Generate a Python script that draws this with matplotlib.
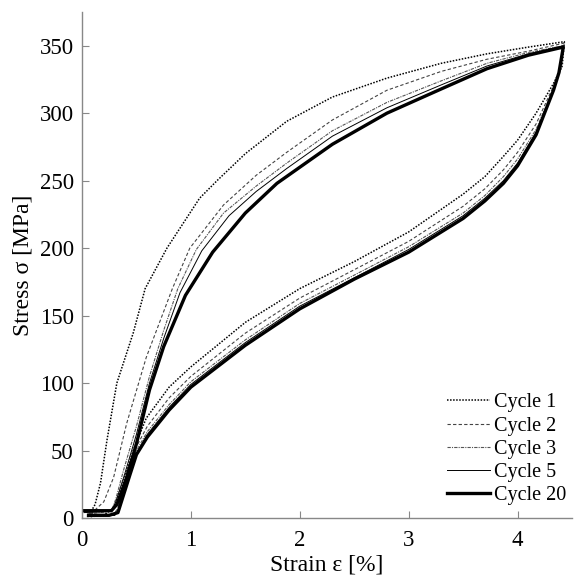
import matplotlib
matplotlib.use("Agg")
import matplotlib.pyplot as plt

plt.rcParams['font.family'] = ['Liberation Serif', 'DejaVu Serif']

# ---------------- data (strain %, stress MPa) ----------------
c1_load_x = [0.07, 0.12, 0.17, 0.23, 0.32, 0.47, 0.58, 0.78, 1.08, 1.24, 1.50, 1.88, 2.30, 2.80, 3.30, 3.72, 4.10, 4.43]
c1_load_y = [3, 10, 26, 58, 100, 137, 170, 200, 237, 250, 270, 294, 312, 326, 337, 344, 349, 353]
c1_unl_x = [4.43, 4.41, 4.33, 4.17, 4.00, 3.87, 3.70, 3.50, 3.00, 2.50, 2.00, 1.50, 1.00, 0.80, 0.59, 0.47, 0.36, 0.30, 0.20, 0.08]
c1_unl_y = [353, 335, 322, 300, 280, 268, 253, 240, 212, 190, 170, 145, 112, 97, 74, 50, 22, 8, 2, 1]

c2_load_x = [0.08, 0.20, 0.29, 0.41, 0.59, 0.83, 0.99, 1.30, 1.60, 1.88, 2.30, 2.80, 3.30, 3.72, 4.10, 4.43]
c2_load_y = [3, 12, 30, 70, 119, 170, 200, 232, 254, 271, 295, 317, 331, 340, 346, 352]
c2_unl_x = [4.43, 4.40, 4.33, 4.17, 4.00, 3.87, 3.70, 3.50, 3.00, 2.50, 2.00, 1.50, 1.00, 0.80, 0.60, 0.50, 0.42, 0.34, 0.30, 0.10]
c2_unl_y = [352, 333, 320, 292, 271, 258, 244, 231, 205, 184, 163, 137, 105, 89, 68, 53, 36, 10, 3, 1]

c3_load_x = [0.05, 0.27, 0.31, 0.38, 0.50, 0.62, 0.75, 0.88, 1.05, 1.30, 1.60, 1.88, 2.30, 2.80, 3.30, 3.72, 4.10, 4.42]
c3_load_y = [3, 5, 14, 35, 68, 105, 139, 170, 199, 226, 246, 263, 287, 308, 324, 337, 345, 350]
c3_unl_x = [4.42, 4.39, 4.33, 4.17, 4.00, 3.87, 3.70, 3.50, 3.00, 2.50, 2.00, 1.50, 1.00, 0.80, 0.60, 0.50, 0.44, 0.33, 0.30, 0.05]
c3_unl_y = [350, 331, 318, 288, 266, 253, 239, 226, 201, 180, 159, 132, 101, 84, 64, 50, 34, 6, 2, 1]

c5_load_x = [0.02, 0.27, 0.31, 0.39, 0.50, 0.62, 0.75, 0.90, 1.10, 1.35, 1.60, 1.88, 2.30, 2.80, 3.30, 3.72, 4.10, 4.42]
c5_load_y = [4, 5, 12, 32, 62, 100, 133, 167, 198, 224, 242, 259, 283, 304, 321, 335, 344, 350]
c5_unl_x = [4.42, 4.38, 4.33, 4.17, 4.00, 3.87, 3.70, 3.50, 3.00, 2.50, 2.00, 1.50, 1.00, 0.80, 0.60, 0.50, 0.44, 0.33, 0.30, 0.05]
c5_unl_y = [350, 330, 317, 286, 263, 250, 237, 224, 199, 178, 157, 130, 99, 82, 62, 48, 33, 5, 2, 1]

c20_load_x = [0.00, 0.27, 0.32, 0.41, 0.50, 0.62, 0.75, 0.95, 1.20, 1.50, 1.79, 2.30, 2.80, 3.30, 3.72, 4.10, 4.42]
c20_load_y = [5.4, 5.4, 10, 30, 55, 95, 127, 165, 197, 226, 248, 277, 300, 318, 333, 343, 349]
c20_unl_x = [4.42, 4.38, 4.33, 4.17, 4.00, 3.87, 3.70, 3.50, 3.00, 2.50, 2.00, 1.50, 1.00, 0.80, 0.60, 0.50, 0.44, 0.33, 0.25, 0.06]
c20_unl_y = [349, 330, 317, 284, 261, 248, 235, 222, 197, 177, 155, 128, 97, 80, 60, 47, 32, 4, 2, 2]

labels = ["Cycle 1", "Cycle 2", "Cycle 3", "Cycle 5", "Cycle 20"]
x_ticks = [0, 1, 2, 3, 4]
y_ticks = [0, 50, 100, 150, 200, 250, 300, 350]

cycles = [
    (c1_load_x + c1_unl_x, c1_load_y + c1_unl_y),
    (c2_load_x + c2_unl_x, c2_load_y + c2_unl_y),
    (c3_load_x + c3_unl_x, c3_load_y + c3_unl_y),
    (c5_load_x + c5_unl_x, c5_load_y + c5_unl_y),
    (c20_load_x + c20_unl_x, c20_load_y + c20_unl_y),
]
styles = [
    dict(color='black', lw=1.1, ls=(0, (1, 1))),
    dict(color='#444444', lw=0.8, ls=(0, (3, 2))),
    dict(color='#555555', lw=0.8, ls=(0, (3, 1, 1, 1))),
    dict(color='black', lw=0.7, ls='-'),
    dict(color='black', lw=2.4, ls='-'),
]

fig = plt.figure(figsize=(5.74, 5.81), dpi=100)
ax = fig.add_axes([82/574, 1-518/581, 490/574, 506/581])

for (xs, ys), st, lab in zip(cycles, styles, labels):
    ax.plot(xs, ys, label=lab, **st)

ax.set_xlim(0, 4.5)
ax.set_ylim(0, 375)
ax.set_xticks(x_ticks)
ax.set_yticks(y_ticks)
for s in ['top', 'right']:
    ax.spines[s].set_visible(False)
for s in ['left', 'bottom']:
    ax.spines[s].set_color('#888888')
    ax.spines[s].set_linewidth(1.0)
ax.tick_params(direction='in', length=5, color='#888888', labelsize=16.5)
ax.tick_params(axis='x', pad=9)
ax.tick_params(axis='y', pad=6)
ax.set_xlabel("Strain ε [%]", fontsize=17, labelpad=2)
ax.set_ylabel("Stress σ [MPa]", fontsize=17, labelpad=4)

leg = ax.legend(loc='lower right', frameon=False, fontsize=14.5, handlelength=2.1,
                handletextpad=0.2, labelspacing=0.2, borderpad=0, borderaxespad=0,
                bbox_to_anchor=(566/574, (581-505)/581), bbox_transform=fig.transFigure)

fig.savefig("out.png", dpi=100)
